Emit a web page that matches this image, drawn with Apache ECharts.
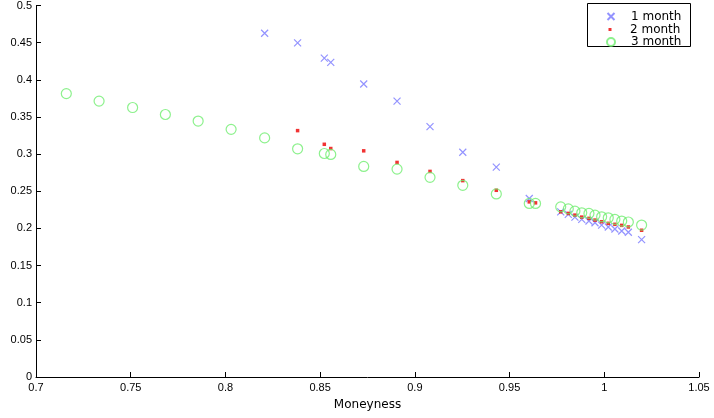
<!DOCTYPE html>
<html>
<head>
<meta charset="utf-8">
<script src="https://cdn.jsdelivr.net/npm/echarts@6/dist/echarts.min.js"></script>
<style>
  html, body { margin: 0; padding: 0; background: #fff; }
  #main { width: 714px; height: 418px; }
</style>
</head>
<body>
<div id="main"></div>
<script>
// moneyness values
var x1 = [0.8207, 0.8381, 0.8522, 0.8556, 0.8730, 0.8906, 0.9080, 0.9253, 0.9430, 0.9604,
  0.9770, 0.9810, 0.9845, 0.9881, 0.9919, 0.9951, 0.9986, 1.0021, 1.0056, 1.0092, 1.0127, 1.0197];
var vol1 = [0.4626, 0.4496, 0.4291, 0.4234, 0.3944, 0.3713, 0.3369, 0.3025, 0.2825, 0.2402,
  0.2223, 0.2189, 0.2152, 0.2122, 0.2099, 0.2076, 0.2045, 0.2019, 0.1992, 0.1965, 0.1948, 0.1849];

var x2 = [0.8381, 0.8522, 0.8556, 0.8730, 0.8906, 0.9080, 0.9253, 0.9430, 0.9604, 0.9637,
  0.9770, 0.9810, 0.9845, 0.9881, 0.9919, 0.9951, 0.9986, 1.0021, 1.0056, 1.0092, 1.0127, 1.0197];
var vol2 = [0.3316, 0.3132, 0.3075, 0.3044, 0.2888, 0.2767, 0.2643, 0.2513, 0.2357, 0.2344,
  0.2223, 0.2202, 0.2179, 0.2152, 0.2135, 0.2112, 0.2090, 0.2068, 0.2055, 0.2041, 0.2019, 0.1975];

var x3 = [0.7160, 0.7333, 0.7510, 0.7683, 0.7856, 0.8030, 0.8207, 0.8381, 0.8522, 0.8556,
  0.8730, 0.8906, 0.9080, 0.9253, 0.9430, 0.9604, 0.9637,
  0.9770, 0.9810, 0.9845, 0.9881, 0.9919, 0.9951, 0.9986, 1.0021, 1.0056, 1.0092, 1.0127, 1.0197];
var vol3 = [0.3814, 0.3713, 0.3627, 0.3533, 0.3445, 0.3333, 0.3218, 0.3071, 0.3008, 0.2995,
  0.2834, 0.2798, 0.2687, 0.2580, 0.2464, 0.2336, 0.2336,
  0.2290, 0.2263, 0.2233, 0.2210, 0.2202, 0.2179, 0.2156, 0.2143, 0.2122, 0.2099, 0.2086, 0.2045];

var names = ['1 month', '2 month', '3 month'];

function pairs(xs, ys) {
  var out = [];
  for (var i = 0; i < xs.length; i++) out.push([xs[i], ys[i]]);
  return out;
}

var font = 'Liberation Sans, Arial, sans-serif';
var wideFont = 'DejaVu Sans, sans-serif';
var blue = '#7878ff', red = '#ee0000', green = '#70ee70';
var crossPath = 'path://M0,0L10,10M10,0L0,10';

var chart = echarts.init(document.getElementById('main'), null, { renderer: 'canvas' });

var axisCommon = {
  axisLine: { show: true, onZero: false, lineStyle: { color: '#000', width: 1 } },
  axisTick: { show: true, inside: true, length: 5, lineStyle: { color: '#000' } },
  axisLabel: { color: '#000', fontSize: 11, fontFamily: font },
  splitLine: { show: false }
};

// one legend per entry so each icon can have its own size; frame is a graphic rect
function legendItem(name, top, left, w, h, pad) {
  return {
    show: true,
    orient: 'vertical',
    left: left,
    top: top,
    padding: 0,
    itemWidth: w,
    itemHeight: h,
    selectedMode: false,
    z: 10,
    textStyle: { color: '#000', fontSize: 12, fontFamily: wideFont, padding: [0, 0, 0, pad] },
    data: [name]
  };
}

var option = {
  backgroundColor: '#fff',
  animation: false,
  grid: { left: 36, right: 15, top: 3, bottom: 41 },
  graphic: [{
    type: 'rect',
    z: 5,
    shape: { x: 587.5, y: 3.5, width: 103, height: 43 },
    style: { fill: '#fff', stroke: '#000', lineWidth: 1 }
  }],
  legend: [
    legendItem(names[0], 10.5, 606.5, 7, 7, 11.5),
    legendItem(names[1], 23.5, 608.5, 3, 3, 13.5),
    legendItem(names[2], 36, 606, 8, 8, 11)
  ],
  xAxis: Object.assign({}, axisCommon, {
    type: 'value',
    min: 0.7,
    max: 1.05,
    interval: 0.05,
    name: 'Moneyness',
    nameLocation: 'middle',
    nameGap: 22,
    nameTextStyle: { color: '#000', fontSize: 12, fontFamily: wideFont },
    axisLabel: Object.assign({}, axisCommon.axisLabel, { margin: 5 })
  }),
  yAxis: Object.assign({}, axisCommon, {
    type: 'value',
    min: 0,
    max: 0.5,
    interval: 0.05,
    axisLabel: Object.assign({}, axisCommon.axisLabel, { margin: 4 })
  }),
  series: [
    {
      name: names[0],
      type: 'scatter',
      symbol: crossPath,
      symbolSize: 7,
      itemStyle: { color: 'transparent', borderColor: blue, borderWidth: 1.2 },
      data: pairs(x1, vol1)
    },
    {
      name: names[1],
      type: 'scatter',
      symbol: 'rect',
      symbolSize: 3.5,
      itemStyle: { color: red },
      data: pairs(x2, vol2)
    },
    {
      name: names[2],
      type: 'scatter',
      symbol: 'circle',
      symbolSize: 10,
      itemStyle: { color: 'transparent', borderColor: green, borderWidth: 1.2 },
      data: pairs(x3, vol3)
    }
  ]
};

chart.setOption(option);
</script>
</body>
</html>
